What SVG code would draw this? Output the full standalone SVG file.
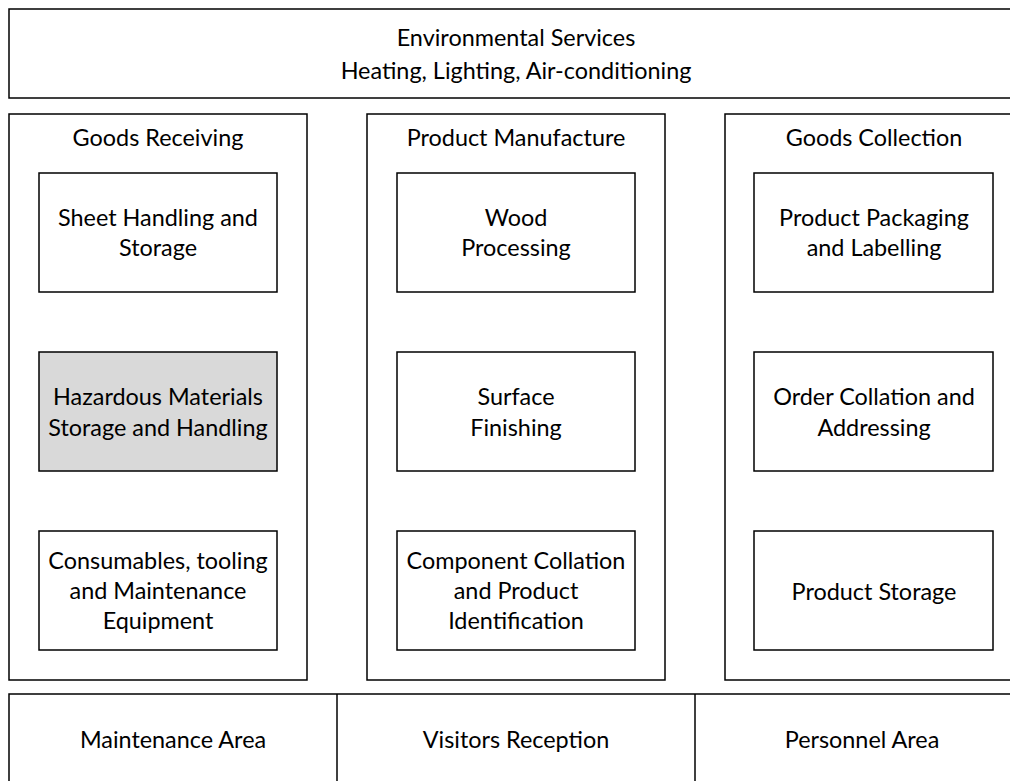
<svg xmlns="http://www.w3.org/2000/svg" width="1010" height="781" viewBox="0 0 1010 781">
<style>
rect{fill:#fff;stroke:#000;stroke-width:1.5}
rect.hz{fill:#d9d9d9}
line{stroke:#000;stroke-width:1.5}
text{font-family:Lato,"Open Sans",sans-serif;font-size:23.4px;fill:#000;text-anchor:middle}
</style>
<rect width="1010" height="781" style="fill:#fff;stroke:none"/>
<g id="env">
<rect x="9" y="9" width="1010" height="89"/>
<text x="516" y="46">Environmental Services</text>
<text x="516" y="79">Heating, Lighting, Air-conditioning</text>
</g>
<g id="goods-receiving">
<rect x="9" y="114" width="298" height="566"/>
<text x="158" y="146">Goods Receiving</text>
</g>
<g id="product-manufacture">
<rect x="367" y="114" width="298" height="566"/>
<text x="516" y="146">Product Manufacture</text>
</g>
<g id="goods-collection">
<rect x="725" y="114" width="300" height="566"/>
<text x="874" y="146">Goods Collection</text>
</g>
<g id="sheet-handling">
<rect x="39" y="173" width="238" height="119"/>
<text x="158" y="226">Sheet Handling and</text>
<text x="158" y="256">Storage</text>
</g>
<g id="hazardous">
<rect class="hz" x="39" y="352" width="238" height="119"/>
<text x="158" y="405">Hazardous Materials</text>
<text x="158" y="436">Storage and Handling</text>
</g>
<g id="consumables">
<rect x="39" y="531" width="238" height="119"/>
<text x="158" y="569">Consumables, tooling</text>
<text x="158" y="599">and Maintenance</text>
<text x="158" y="629">Equipment</text>
</g>
<g id="wood">
<rect x="397" y="173" width="238" height="119"/>
<text x="516" y="226">Wood</text>
<text x="516" y="256">Processing</text>
</g>
<g id="surface">
<rect x="397" y="352" width="238" height="119"/>
<text x="516" y="405">Surface</text>
<text x="516" y="436">Finishing</text>
</g>
<g id="component">
<rect x="397" y="531" width="238" height="119"/>
<text x="516" y="569">Component Collation</text>
<text x="516" y="599">and Product</text>
<text x="516" y="629">Identification</text>
</g>
<g id="packaging">
<rect x="754" y="173" width="239" height="119"/>
<text x="874" y="226">Product Packaging</text>
<text x="874" y="256">and Labelling</text>
</g>
<g id="order">
<rect x="754" y="352" width="239" height="119"/>
<text x="874" y="405">Order Collation and</text>
<text x="874" y="436">Addressing</text>
</g>
<g id="storage">
<rect x="754" y="531" width="239" height="119"/>
<text x="874" y="600">Product Storage</text>
</g>
<g id="bottom-row">
<rect x="9" y="694" width="1010" height="100"/>
</g>
<g id="connectors">
<line x1="337" y1="694" x2="337" y2="781"/>
<line x1="695" y1="694" x2="695" y2="781"/>
</g>
<g id="maintenance"><text x="173" y="748">Maintenance Area</text></g>
<g id="visitors"><text x="516" y="748">Visitors Reception</text></g>
<g id="personnel"><text x="862" y="748">Personnel Area</text></g>
</svg>
